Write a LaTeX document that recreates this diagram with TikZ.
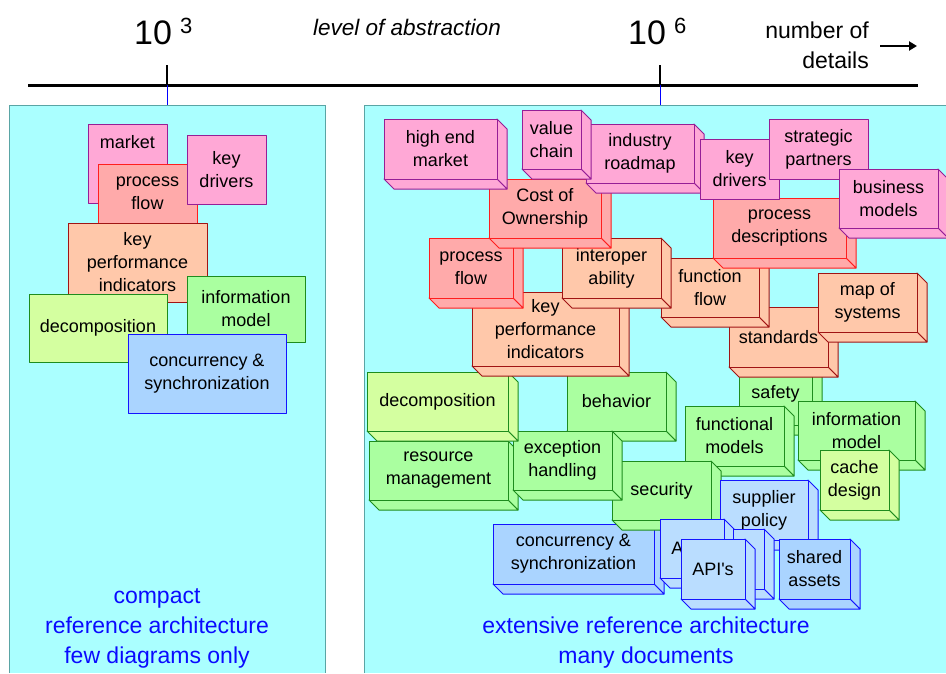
\documentclass[tikz,border=0pt]{standalone}
\usepackage{fontspec}
\setmainfont{Liberation Sans}
\usepackage{tikz}
\usetikzlibrary{arrows.meta}

\definecolor{panelfill}{RGB}{170,255,255}
\definecolor{paneledge}{RGB}{90,165,165}
\definecolor{pinkfill}{RGB}{255,168,214}
\definecolor{pinkedge}{RGB}{150,30,150}
\definecolor{redfill}{RGB}{255,170,170}
\definecolor{rededge}{RGB}{255,30,30}
\definecolor{peachfill}{RGB}{255,200,170}
\definecolor{peachedge}{RGB}{160,20,20}
\definecolor{greenfill}{RGB}{170,255,160}
\definecolor{greenedge}{RGB}{30,140,30}
\definecolor{limefill}{RGB}{212,255,160}
\definecolor{bluefill}{RGB}{170,212,255}
\definecolor{palebluefill}{RGB}{186,221,255}
\definecolor{blueedge}{RGB}{20,20,255}
\definecolor{labelblue}{RGB}{10,10,255}

% flat box: style, name, x1, y1, x2, y2, text
\newcommand{\flatbox}[7]{%
  \node[#1, minimum width={(#5-#3)*1pt}, minimum height={(#6-#4)*1pt}] (#2) at ({(#3+#5)/2},{(#4+#6)/2}) {#7};
}
% box with side and bottom face
\newcommand{\cubebox}[7]{%
  \filldraw[#1] (#5,#4) -- ({#5+10},{#4+10}) -- ({#5+10},{#6+10}) -- (#5,#6) -- cycle;
  \filldraw[#1] (#3,#6) -- (#5,#6) -- ({#5+10},{#6+10}) -- ({#3+10},{#6+10}) -- cycle;
  \flatbox{#1}{#2}{#3}{#4}{#5}{#6}{#7}
}

\begin{document}
\begin{tikzpicture}[x=1pt, y=-1pt,
  box/.style={draw, line width=1pt, line join=round, inner sep=0pt, align=center, font=\fontsize{18}{23}\selectfont},
  pinkbox/.style={box, fill=pinkfill, draw=pinkedge},
  redbox/.style={box, fill=redfill, draw=rededge},
  peachbox/.style={box, fill=peachfill, draw=peachedge},
  greenbox/.style={box, fill=greenfill, draw=greenedge},
  limebox/.style={box, fill=limefill, draw=greenedge},
  bluebox/.style={box, fill=bluefill, draw=blueedge},
  palebluebox/.style={box, fill=palebluefill, draw=blueedge},
  bluetext/.style={align=center, text=labelblue, font=\fontsize{23}{30}\selectfont}]
\useasboundingbox (0,0) rectangle (946,673);

% panels
\fill[panelfill] (9,105) rectangle (325,673);
\draw[paneledge] (9,673) -- (9,105) -- (325,105) -- (325,673);
\fill[panelfill] (364,105) rectangle (946,673);
\draw[paneledge] (364,673) -- (364,105) -- (946,105);

% axis
\coordinate (axisL) at (28,85);
\coordinate (axisR) at (918,85);
\coordinate (tickA) at (167,85);
\coordinate (tickB) at (660,85);
\draw[line width=3pt] (axisL) -- (axisR);
\draw[line width=2pt] (tickA) -- ++(0,-20);
\draw[line width=2pt] (tickB) -- ++(0,-20);
\draw[blue, line width=0.6pt] (tickA) -- ++(0,20);
\draw[blue, line width=0.6pt] (tickB) -- ++(0,20);

\node[anchor=base west, inner sep=0pt] (expA) at (134,44) {\fontsize{34}{34}\selectfont 10\hspace{8pt}\raisebox{11pt}{\fontsize{22}{22}\selectfont 3}};
\node[anchor=base west, inner sep=0pt] (expB) at (628,44) {\fontsize{34}{34}\selectfont 10\hspace{8pt}\raisebox{11pt}{\fontsize{22}{22}\selectfont 6}};
\node[anchor=base, inner sep=0pt] (abstr) at (407,35) {\fontsize{22.5}{26}\selectfont\itshape level of abstraction};
\node[anchor=east, align=right, inner sep=0pt, font=\fontsize{23}{30}\selectfont] (ndet) at (869,45) {number of\\details};
\coordinate (arrS) at (880,46);
\coordinate (arrE) at (917,46);
\draw[line width=2pt, -{Triangle[length=8pt,width=9pt]}] (arrS) -- (arrE);

% compact
\flatbox{pinkbox, text depth=44pt}{lmarket}{88}{124}{167}{203}{market}
\flatbox{redbox}{lflow}{98}{164}{197}{223}{process\\flow}
\flatbox{pinkbox}{ldrivers}{187}{135}{266}{204}{key\\drivers}
\flatbox{peachbox}{lkpi}{68}{223}{207}{302}{key\\performance\\indicators}
\flatbox{limebox}{ldecomp}{29}{294}{167}{362}{decomposition}
\flatbox{greenbox}{linfo}{187}{276}{305}{342}{information\\model}
\flatbox{bluebox}{lconc}{128}{334}{286}{413}{concurrency \&\\synchronization}

% extensive, lower part first
\cubebox{greenbox}{safety}{739}{362}{812}{425}{safety}
\cubebox{greenbox}{behav}{567}{372}{666}{431}{behavior}
\cubebox{greenbox}{resmgt}{369}{441}{508}{500}{resource\\management}
\cubebox{greenbox}{funcmod}{685}{406}{784}{466}{functional\\models}
\cubebox{greenbox}{infomod}{798}{401}{915}{460}{information\\model}
\cubebox{limebox}{cache}{820}{450}{889}{510}{cache\\design}
\cubebox{bluebox}{conc}{493}{524}{654}{584}{concurrency \&\\synchronization}
\cubebox{greenbox}{secur}{612}{461}{711}{520}{security}
\cubebox{greenbox}{except}{513}{431}{612}{490}{exception\\handling}
\cubebox{limebox}{decomp}{367}{372}{508}{431}{decomposition}
\cubebox{palebluebox}{suppl}{720}{480}{808}{540}{supplier\\policy}
\cubebox{palebluebox}{apiA}{660}{519}{724}{578}{API\textquotesingle s}
\cubebox{palebluebox}{apiB}{733}{529}{764}{589}{}
\cubebox{palebluebox}{apiC}{681}{539}{745}{599}{API\textquotesingle s}
\cubebox{bluebox}{shared}{779}{539}{850}{599}{shared\\assets}

% upper part
\cubebox{peachbox}{stand}{729}{307}{828}{367}{standards}
\cubebox{peachbox}{kpi}{472}{292}{619}{366}{key\\performance\\indicators}
\cubebox{peachbox}{fflow}{661}{258}{759}{317}{function\\flow}
\cubebox{peachbox}{sysmap}{818}{273}{917}{332}{map of\\systems}
\cubebox{redbox}{pflow}{429}{238}{513}{298}{process\\flow}
\cubebox{peachbox}{interop}{562}{238}{661}{298}{interoper\\ability}
\cubebox{redbox}{pdesc}{713}{198}{846}{258}{process\\descriptions}
\cubebox{redbox}{cost}{489}{179}{601}{238}{Cost of\\Ownership}
\cubebox{pinkbox}{hemkt}{384}{119}{497}{179}{high end\\market}
\cubebox{pinkbox}{roadmap}{586}{124}{694}{183}{industry\\roadmap}
\cubebox{pinkbox}{vchain}{522}{110}{581}{169}{value\\chain}
\flatbox{pinkbox}{rdrivers}{700}{139}{779}{199}{key\\drivers}
\flatbox{pinkbox}{partners}{769}{119}{868}{179}{strategic\\partners}
\cubebox{pinkbox}{bizmod}{839}{169}{938}{228}{business\\models}

\node[bluetext] (cmpt) at (157,628) {compact\\reference architecture\\few diagrams only};
\node[bluetext] (ext) at (646,643) {extensive reference architecture\\many documents};
\end{tikzpicture}
\end{document}
